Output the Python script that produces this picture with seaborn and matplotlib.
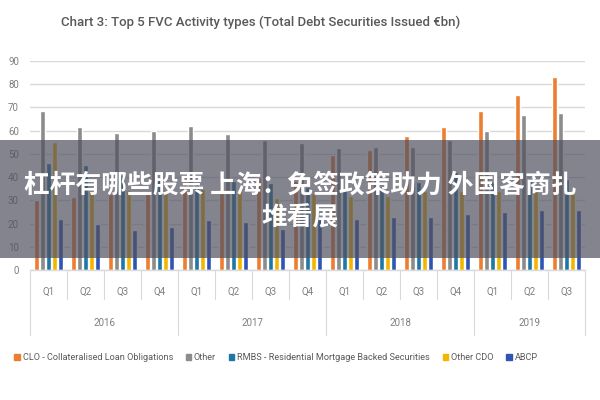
import numpy as np
import pandas as pd
import matplotlib
matplotlib.use('Agg')
import matplotlib.pyplot as plt
import matplotlib.transforms as mtransforms
from matplotlib.patches import Rectangle
import seaborn as sns

# Data (EUR bn)
quarters = ['Q1', 'Q2', 'Q3', 'Q4'] * 3 + ['Q1', 'Q2', 'Q3']
years = ['2016', '2017', '2018', '2019']
year_sizes = [4, 4, 4, 3]
series = ['CLO - Collateralised Loan Obligations', 'Other',
          'RMBS - Residential Mortgage Backed Securities', 'Other CDO', 'ABCP']
clo = [30, 31.5, 32.5, 34, 37, 38.5, 40, 38.5, 49.5, 51.5, 57.5, 61.5, 68.5, 75.5, 83]
other = [68.5, 61.5, 59, 60, 62, 58.5, 56, 54.5, 52.5, 53, 53, 56, 60, 66.5, 67.5]
rmbs = [46, 45, 41, 40, 38, 38.5, 37.5, 35.5, 35, 36, 38, 42, 38, 39.5, 39]
other_cdo = [55, 34, 34.5, 34.5, 35, 34, 31, 33, 32, 32, 34, 34, 34, 34.5, 34]
abcp = [22, 20, 17, 18.5, 21.5, 20.5, 17.5, 22, 22, 23, 23, 24, 25, 26, 26]
colors = ['#ED7D31', '#8C8C8C', '#1F77A3', '#F2B600', '#2F55B4']

periods = [f'{y}-{q}' for y, n in zip(years, year_sizes) for q in quarters[:n]]
df = pd.DataFrame({'period': periods, series[0]: clo, series[1]: other,
                   series[2]: rmbs, series[3]: other_cdo, series[4]: abcp})
long = df.melt(id_vars='period', var_name='series', value_name='value')

sns.set_style('white')
plt.rcParams['font.family'] = ['Roboto', 'DejaVu Sans']

fig = plt.figure(figsize=(6, 4), dpi=100)
ax = fig.add_axes([0.05, 0.325, 0.925, 0.523])

sns.barplot(data=long, x='period', y='value', hue='series', hue_order=series,
            palette=colors, order=periods, width=0.8, ax=ax, legend=False,
            saturation=1)

# thinner bars with small gaps, like the original
for p in ax.patches:
    w = p.get_width()
    p.set_x(p.get_x() + w * 0.125)
    p.set_width(w * 0.75)

ax.set_ylim(0, 90)
ax.set_xlim(-0.5, len(periods) - 0.5)
ax.set_yticks(range(0, 91, 10))
ax.yaxis.grid(True, color='#D9D9D9', linewidth=1)
ax.set_axisbelow(True)
for s in ax.spines.values():
    s.set_visible(False)
ax.tick_params(axis='y', length=0, labelsize=7, colors='#7F7F7F', pad=8)
ax.set_xticks(range(len(periods)))
ax.set_xticklabels(quarters, fontsize=7, color='#7F7F7F')
ax.tick_params(axis='x', length=0, pad=12)
ax.set_xlabel('')
ax.set_ylabel('')

# two-level category axis
trans = mtransforms.blended_transform_factory(ax.transData, ax.transAxes)
ax.plot([-0.5, len(periods) - 0.5], [0, 0], color='#D9D9D9', lw=1,
        transform=trans, clip_on=False)
bounds = np.cumsum([0] + year_sizes)
for i in range(len(periods) + 1):
    low = -0.31 if i in bounds else -0.14
    ax.plot([i - 0.5, i - 0.5], [0, low], color='#D9D9D9', lw=0.8,
            transform=trans, clip_on=False)
for y, a, b in zip(years, bounds[:-1], bounds[1:]):
    ax.text((a + b - 1) / 2, -0.255, y, transform=trans, ha='center',
            va='center', fontsize=7, color='#7F7F7F')

fig.text(0.435, 0.945, 'Chart 3: Top 5 FVC Activity types (Total Debt Securities Issued €bn)',
         ha='center', va='center', fontsize=9.5, color='#595959', fontweight='medium')

handles = [Rectangle((0, 0), 1, 1, color=c) for c in colors]
fig.legend(handles, series, loc='center', bbox_to_anchor=(0.46, 0.105), ncol=5,
           frameon=False, fontsize=6.6, handlelength=0.6, handleheight=0.6,
           handletextpad=0.3, columnspacing=1.4, labelcolor='#595959')

# grey banner with overlaid caption
fig.patches.append(Rectangle((0, 0.355), 1, 0.295, transform=fig.transFigure,
                             facecolor='#50505F', alpha=0.7, edgecolor='none',
                             zorder=5))
cjk = ['Noto Sans CJK SC', 'DejaVu Sans']
fig.text(0.5, 0.538, '杠杆有哪些股票 上海：免签政策助力 外国客商扎', ha='center',
         va='center', fontsize=18.5, color='white', fontweight='bold',
         family=cjk, zorder=6)
fig.text(0.5, 0.455, '堆看展', ha='center', va='center', fontsize=18.5,
         color='white', fontweight='bold', family=cjk, zorder=6)

fig.savefig('out.png', dpi=100)
